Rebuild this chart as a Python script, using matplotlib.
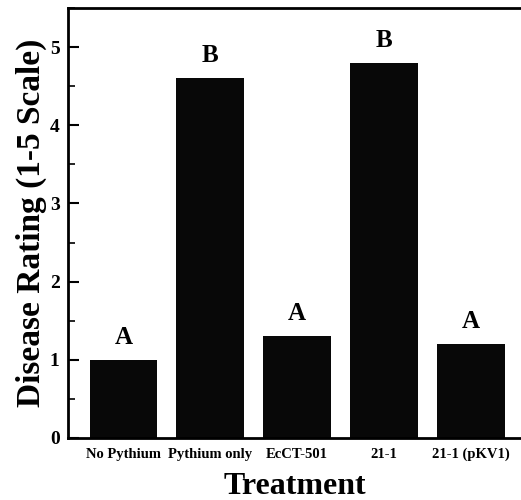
import matplotlib
matplotlib.use('Agg')
import matplotlib.pyplot as plt
from matplotlib.ticker import MultipleLocator

# disease rating per treatment
treatments = ['No Pythium', 'Pythium only', 'EcCT-501', '21-1', '21-1 (pKV1)']
rating = [1.0, 4.6, 1.3, 4.8, 1.2]
letters = ['A', 'B', 'A', 'B', 'A']

plt.rcParams['font.family'] = 'Liberation Serif'
plt.rcParams['font.weight'] = 'bold'

fig = plt.figure(figsize=(5.21, 5.0), dpi=100)
ax = fig.add_axes([0.1305, 0.124, 0.8695, 0.86])

xs = range(len(treatments))
ax.bar(xs, rating, width=0.78, color='#080808')

for x, r, l in zip(xs, rating, letters):
    ax.text(x, r + 0.14, l, ha='center', va='bottom', fontsize=18, fontweight='bold')

ax.set_xlim(-0.64, 4.58)
ax.set_ylim(0, 5.5)
ax.set_xticks(list(xs))
ax.set_xticklabels(treatments, fontsize=10.5, fontweight='bold')
ax.yaxis.set_major_locator(MultipleLocator(1))
ax.yaxis.set_minor_locator(MultipleLocator(0.5))
ax.tick_params(axis='y', which='major', direction='in', length=8, width=1.5, labelsize=14, pad=6)
ax.tick_params(axis='y', which='minor', direction='in', length=5, width=1.2)
ax.tick_params(axis='x', length=0, pad=7)
for t in ax.get_yticklabels():
    t.set_fontweight('bold')

ax.spines['right'].set_visible(False)
for s in ['left', 'bottom', 'top']:
    ax.spines[s].set_linewidth(2)

ax.set_ylabel('Disease Rating (1-5 Scale)', fontsize=24, fontweight='bold', labelpad=2)
ax.set_xlabel('Treatment', fontsize=23, fontweight='bold', labelpad=8)

fig.savefig('out.png', dpi=100)
